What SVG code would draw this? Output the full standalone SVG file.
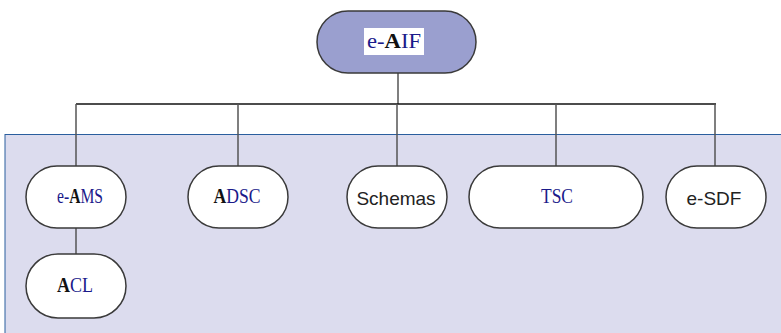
<svg xmlns="http://www.w3.org/2000/svg" width="781" height="333" viewBox="0 0 781 333">
<style>
.node{fill:#ffffff;stroke:#3a3a3a;stroke-width:1.5}
.top{fill:#9a9fcf;stroke:#3a3a3a;stroke-width:1.5}
.conn{stroke:#555555;stroke-width:1.5;fill:none}
.bar{stroke:#111111;stroke-width:1.5;fill:none}
.mono{font-family:"Liberation Serif","DejaVu Serif",serif;font-size:20px;fill:#1a1a8a;text-anchor:middle}
.b{font-weight:bold;fill:#111111}
.sans{font-family:"Liberation Sans",Arial,sans-serif;font-size:19px;fill:#222222;text-anchor:middle}
</style>
<rect x="0" y="0" width="781" height="333" fill="#ffffff"/>
<rect id="panel" x="5" y="134.5" width="790" height="210" fill="#dcdcee" stroke="#2a5e9e" stroke-width="1"/>
<g id="connectors">
<line class="conn" x1="398" y1="73" x2="398" y2="104"/>
<line class="bar" x1="76" y1="104" x2="716" y2="104"/>
<line class="conn" x1="76" y1="104" x2="76" y2="166"/>
<line class="conn" x1="238" y1="104" x2="238" y2="166"/>
<line class="conn" x1="397" y1="104" x2="397" y2="166"/>
<line class="conn" x1="556" y1="104" x2="556" y2="166"/>
<line class="conn" x1="715" y1="104" x2="715" y2="166"/>
<line class="conn" x1="76" y1="228" x2="76" y2="254"/>
</g>
<g id="e-AIF">
<rect class="top" x="317" y="11" width="159" height="62" rx="31"/>
<rect x="364" y="28" width="60" height="27" fill="#ffffff"/>
<text class="mono" x="394" y="48" textLength="54" lengthAdjust="spacingAndGlyphs">e-<tspan class="b">A</tspan>IF</text>
</g>
<g id="e-AMS">
<rect class="node" x="26" y="166" width="100" height="62" rx="31"/>
<text class="mono" x="80" y="203" textLength="46" lengthAdjust="spacingAndGlyphs">e-<tspan class="b">A</tspan>MS</text>
</g>
<g id="ADSC">
<rect class="node" x="188" y="166" width="100" height="62" rx="31"/>
<text class="mono" x="237" y="203" textLength="47" lengthAdjust="spacingAndGlyphs"><tspan class="b">A</tspan>DSC</text>
</g>
<g id="Schemas">
<rect class="node" x="347" y="166" width="100" height="62" rx="31"/>
<text class="sans" x="396" y="205">Schemas</text>
</g>
<g id="TSC">
<rect class="node" x="469" y="166" width="174" height="62" rx="31"/>
<text class="mono" x="557" y="203" textLength="32" lengthAdjust="spacingAndGlyphs">TSC</text>
</g>
<g id="e-SDF">
<rect class="node" x="666" y="166" width="100" height="62" rx="31"/>
<text class="sans" x="714" y="205">e-SDF</text>
</g>
<g id="ACL">
<rect class="node" x="26" y="254" width="100" height="64" rx="32"/>
<text class="mono" x="75" y="292" textLength="36" lengthAdjust="spacingAndGlyphs"><tspan class="b">A</tspan>CL</text>
</g>
</svg>
